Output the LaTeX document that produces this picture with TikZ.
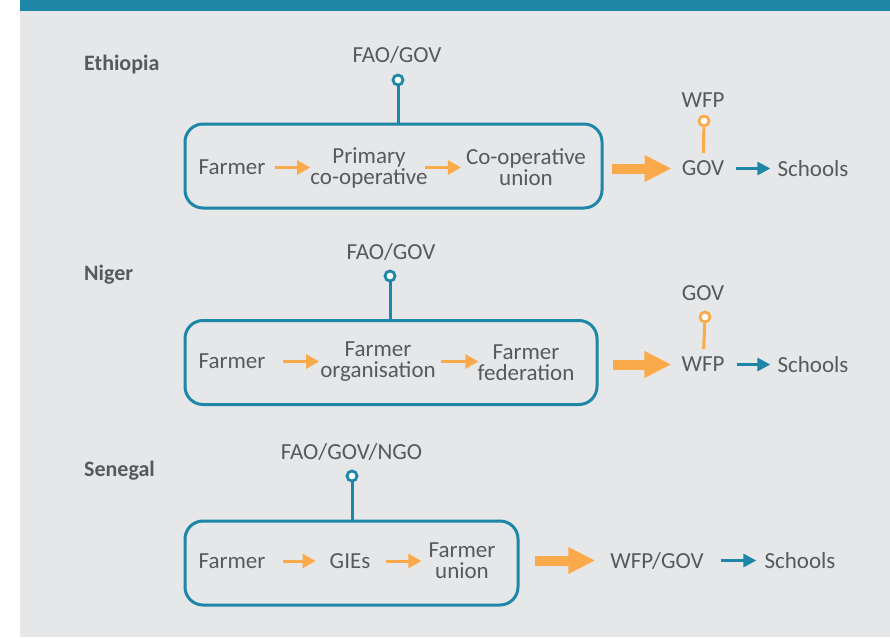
\documentclass[tikz,border=0pt]{standalone}
\usepackage{fontspec}
\setmainfont{Carlito}
\usetikzlibrary{arrows.meta}
\usetikzlibrary{positioning}
\definecolor{wfpteal}{HTML}{1E86A7}
\definecolor{wfporange}{HTML}{FBAA4B}
\definecolor{wfpgray}{HTML}{E6E7E8}
\definecolor{wfptext}{HTML}{58595B}

\begin{document}
\begin{tikzpicture}[x=1pt,y=-1pt,
    lbl/.style={text=wfptext,font=\fontsize{23}{21}\selectfont,align=center,inner sep=2pt},
    country/.style={text=wfptext,font=\fontsize{22}{22}\selectfont\bfseries,anchor=west,inner sep=0pt},
    panel/.style={draw=wfpteal,line width=3pt,rounded corners=18pt,minimum height=84pt},
    tealpin/.style={circle,draw=wfpteal,fill=white,line width=2.8pt,minimum size=10pt,inner sep=0pt},
    orangepin/.style={circle,draw=wfporange,fill=white,line width=2.8pt,minimum size=10pt,inner sep=0pt},
    stem/.style={line width=3pt},
    flow/.style={draw=wfporange,line width=3pt,-{Triangle[length=13pt,width=14pt]}},
    bigflow/.style={draw=wfporange,line width=10pt,-{Triangle[length=27pt,width=25pt]}},
    deliver/.style={draw=wfpteal,line width=3pt,-{Triangle[length=13pt,width=13pt]}}]
    \useasboundingbox (0,0) rectangle (890,637);
    \fill[wfpgray] (20,0) rectangle (890,637);
    \fill[wfpteal] (20,0) rectangle (890,11);

    % Ethiopia
    \node[country] (ethiopia) at (84,65) {Ethiopia};
    \node[lbl] (efao) at (397,55) {FAO/GOV};
    \node[tealpin] (epin) at (398,80) {};
    \node[panel,minimum width=417pt] (ebox) at (393.5,166) {};
    \draw[wfpteal,stem] (epin) -- (epin |- ebox.north);
    \node[lbl] (efarmer) at (232,167.5) {Farmer};
    \node[lbl] (eprimary) at (369,167.5) {Primary\\co-operative};
    \node[lbl] (eunion) at (526,167.5) {Co-operative\\union};
    \draw[flow,shorten <=7pt,shorten >=-2pt] (efarmer) -- (eprimary);
    \draw[flow,shorten <=-5pt,shorten >=3pt] (eprimary) -- (eunion);
    \node[lbl] (egov) at (703,168.5) {GOV};
    \node[lbl] (ewfp) at (703,100) {WFP};
    \node[orangepin] (ewfppin) at (704,121) {};
    \draw[wfporange,stem,shorten >=6pt] (ewfppin) -- (egov);
    \draw[bigflow,shorten <=8.5pt,shorten >=8pt] (ebox.east |- egov) -- (egov);
    \node[lbl] (eschools) at (813,168.5) {Schools};
    \draw[deliver,shorten <=10pt,shorten >=5pt] (egov) -- (eschools);

    % Niger
    \node[country] (niger) at (84,275) {Niger};
    \node[lbl] (nfao) at (391,252) {FAO/GOV};
    \node[tealpin] (npin) at (390,276) {};
    \node[panel,minimum width=412pt] (nbox) at (391,362.5) {};
    \draw[wfpteal,stem] (npin) -- (npin |- nbox.north);
    \node[lbl] (nfarmer) at (232,361.5) {Farmer};
    \node[lbl] (norg) at (378,361.5) {Farmer\\organisation};
    \node[lbl] (nfed) at (526,363) {Farmer\\federation};
    \draw[flow,shorten <=15pt,shorten >=-1pt] (nfarmer) -- (norg);
    \draw[flow,shorten <=3pt,shorten >=-3pt] (norg) -- (nfarmer -| nfed.west);
    \node[lbl] (nwfp) at (703,364.5) {WFP};
    \node[lbl] (ngov) at (703,293) {GOV};
    \node[orangepin] (ngovpin) at (705,317) {};
    \draw[wfporange,stem,shorten >=6pt] (ngovpin) -- (nwfp);
    \draw[bigflow,shorten <=14.5pt,shorten >=8pt] (nbox.east |- nwfp) -- (nwfp);
    \node[lbl] (nschools) at (813,364.5) {Schools};
    \draw[deliver,shorten <=10pt,shorten >=5pt] (nwfp) -- (nschools);

    % Senegal
    \node[country] (senegal) at (84,471) {Senegal};
    \node[lbl] (sfao) at (351.5,452) {FAO/GOV/NGO};
    \node[tealpin] (spin) at (352,476) {};
    \node[panel,minimum width=333pt] (sbox) at (351.5,563) {};
    \draw[wfpteal,stem] (spin) -- (spin |- sbox.north);
    \node[lbl] (sfarmer) at (232,561) {Farmer};
    \node[lbl] (sgies) at (350,561) {GIEs};
    \node[lbl] (sunion) at (462,561) {Farmer\\union};
    \draw[flow,shorten <=15pt,shorten >=12pt] (sfarmer) -- (sgies);
    \draw[flow,shorten <=14pt,shorten >=5pt] (sgies) -- (sunion);
    \node[lbl] (swfpgov) at (657,560.5) {WFP/GOV};
    \draw[bigflow,shorten <=15.5pt,shorten >=13pt] (sbox.east |- swfpgov) -- (swfpgov);
    \node[lbl] (sschools) at (800,560.5) {Schools};
    \draw[deliver,shorten <=15pt,shorten >=6pt] (swfpgov) -- (sschools);
\end{tikzpicture}
\end{document}
